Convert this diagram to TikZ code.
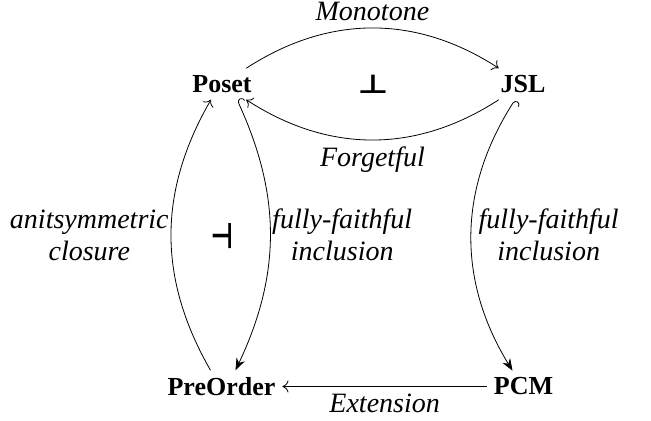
\documentclass[tikz,border=0pt]{standalone}
\usepackage{fontspec}
\setmainfont{Liberation Serif}
\newfontfamily\symfont{DejaVu Sans}
\usetikzlibrary{arrows.meta}

\begin{document}
\begin{tikzpicture} [x=.5pt, y=.5pt,
  obj/.style={font=\fontsize{13}{15}\selectfont\bfseries},
  lbl/.style={font=\fontsize{14}{16}\selectfont\itshape, align=center},
  adj/.style={font=\fontsize{13}{15}\selectfont\symfont\bfseries, inner sep=0pt},
  tip/.style={-{Computer Modern Rightarrow[length=3pt,width=6pt]}},
  incl/.style={{Hooks[right,length=2pt,width=7pt]}-{Stealth[length=6pt,width=4.5pt]}}]

\useasboundingbox (0,0) rectangle (651,421);

\node[obj] (poset) at (222,337) {Poset};
\node[obj] (jsl) at (523,337) {JSL};
\node[obj] (preorder) at (221.5,34.5) {PreOrder};
\node[obj] (pcm) at (523.5,34.5) {PCM};

\draw[tip] (poset) to[bend left=33] node[lbl, above] {Monotone} (jsl);
\draw[tip] (jsl) to[bend left=33] node[lbl, below] {Forgetful} (poset);
\draw[tip] (pcm) -- node[lbl, below] {Extension} (preorder);
\draw[tip] ([xshift=-5.5pt]preorder.north) to[bend left=30] node[lbl, left, inner sep=1pt] {anitsymmetric\\closure} ([xshift=-5.5pt]poset.south);
\draw[incl] ([xshift=7.5pt]poset.south) to[bend left=25] node[lbl, right, inner sep=1pt] {fully-faithful\\inclusion} ([xshift=7pt]preorder.north);
\draw[incl] ([xshift=-4pt]jsl.south) to[bend right=32] node[lbl, right] {fully-faithful\\inclusion} ([xshift=-5.5pt]pcm.north);

\node[adj] (adjtop) at (373,337) {\scalebox{1.3}[1]{⊥}};
\node[adj, rotate=90] (adjleft) at (222,185) {\scalebox{1.3}[1]{⊥}};
\end{tikzpicture}
\end{document}
